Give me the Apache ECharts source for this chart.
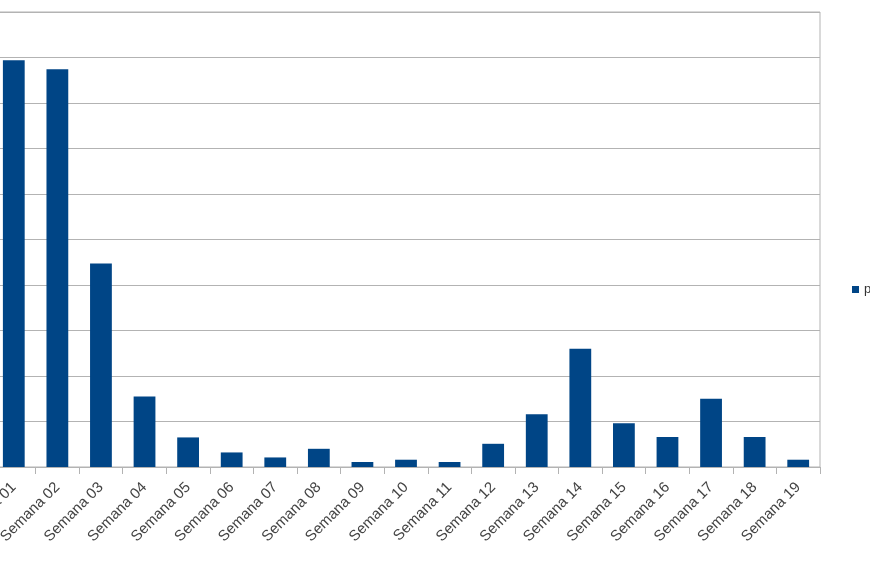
<!DOCTYPE html>
<html>
<head>
<meta charset="utf-8">
<script src="https://cdn.jsdelivr.net/npm/echarts@6/dist/echarts.min.js"></script>
<style>html,body{margin:0;padding:0;background:#fff;overflow:hidden;width:870px;height:570px;position:relative}#c{position:absolute;left:-50px;top:0;width:920px;height:570px}</style>
</head>
<body>
<div id="c"></div>
<script>
const categories = ["Semana 01","Semana 02","Semana 03","Semana 04","Semana 05","Semana 06","Semana 07","Semana 08","Semana 09","Semana 10","Semana 11","Semana 12","Semana 13","Semana 14","Semana 15","Semana 16","Semana 17","Semana 18","Semana 19"];
const values = [89.4, 87.4, 44.7, 15.5, 6.5, 3.2, 2.1, 4.0, 1.1, 1.6, 1.1, 5.1, 11.6, 26.0, 9.6, 6.6, 15.0, 6.6, 1.6];
const seriesName = "p";
const yMin = 0, yMax = 100, yStep = 10;

const chart = echarts.init(document.getElementById('c'), null, {renderer: 'canvas'});
chart.setOption({
  animation: false,
  backgroundColor: '#ffffff',
  grid: {left: 42, right: 50, top: 12, bottom: 103, containLabel: false,
         show: true, borderColor: '#b3b3b3', borderWidth: 1, backgroundColor: 'transparent'},
  legend: {
    orient: 'vertical', left: 897, top: 278,
    itemWidth: 7, itemHeight: 7, itemGap: 5,
    icon: 'rect',
    textStyle: {fontFamily: 'Liberation Sans', fontSize: 13, color: '#333'},
    data: [seriesName]
  },
  xAxis: {
    type: 'category', data: categories,
    axisLine: {show: true, lineStyle: {color: '#b3b3b3', width: 1}},
    axisTick: {show: true, alignWithLabel: false, length: 7, lineStyle: {color: '#b3b3b3'}},
    axisLabel: {rotate: 45, interval: 0, margin: 18, fontFamily: 'Liberation Sans', fontSize: 15, color: '#444'}
  },
  yAxis: {
    type: 'value', min: yMin, max: yMax, interval: yStep,
    axisLabel: {show: false}, axisLine: {show: false}, axisTick: {show: false},
    splitLine: {show: true, lineStyle: {color: '#b3b3b3', width: 1}}
  },
  series: [{
    name: seriesName, type: 'bar', data: values,
    barWidth: '50%',
    itemStyle: {color: '#004586'}
  }]
});
</script>
</body>
</html>
